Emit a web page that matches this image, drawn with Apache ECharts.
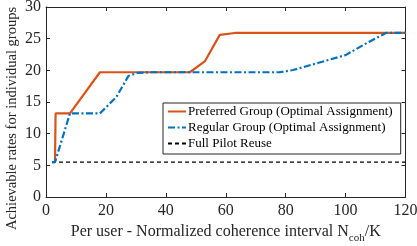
<!DOCTYPE html>
<html><head><meta charset="utf-8">
<script src="https://cdn.jsdelivr.net/npm/echarts@6/dist/echarts.min.js"></script>
<style>html,body{margin:0;padding:0;background:#fff}#c{width:417px;height:246px}</style>
</head><body><div id="c"></div>
<script>
const preferredX = [2, 3, 3.2, 8, 18, 48, 53, 58, 63, 120];
const preferredY = [5.5, 5.5, 13.2, 13.2, 19.7, 19.7, 21.4, 25.6, 25.9, 25.9];
const regularX = [2, 3, 8, 18, 23.5, 27.5, 30.5, 35, 78, 82.5, 91, 100, 107, 113.5, 120];
const regularY = [5.5, 5.5, 13.2, 13.2, 15.8, 19.1, 19.6, 19.7, 19.7, 20.05, 21.2, 22.4, 24.3, 25.9, 25.9];
const reuseX = [2, 120];
const reuseY = [5.5, 5.5];
const xTicks = [0, 20, 40, 60, 80, 100, 120];
const yTicks = [0, 5, 10, 15, 20, 25, 30];

const zip = (xs, ys) => xs.map((x, i) => [x, ys[i]]);
const font = 'Liberation Serif';
const chart = echarts.init(document.getElementById('c'));
const axisCommon = {
  axisLine: {show: true, onZero: false, lineStyle: {color: '#262626', width: 1}},
  axisTick: {show: true, inside: true, length: 4, lineStyle: {color: '#262626'}},
  splitLine: {show: false}
};
const names = ['Preferred Group (Optimal Assignment)', 'Regular Group (Optimal Assignment)', 'Full Pilot Reuse'];
chart.setOption({
  animation: false,
  grid: {left: 46, right: 11.5, top: 7, bottom: 49, containLabel: false, outerBoundsMode: 'none'},
  xAxis: [
    Object.assign({type: 'value', min: xTicks[0], max: xTicks[xTicks.length - 1], interval: 20,
      axisLabel: {fontFamily: font, fontSize: 16, color: '#262626', margin: 6},
      name: '{a|Per user - Normalized coherence interval N}{s|coh}{a|/K}',
      nameLocation: 'middle', nameGap: 21,
      nameTextStyle: {rich: {a: {fontFamily: font, fontSize: 16, color: '#262626'}, s: {fontFamily: font, fontSize: 11, color: '#262626', verticalAlign: 'bottom', padding: [12, 0, 0, 0]}}}
    }, axisCommon),
    Object.assign({type: 'value', min: 0, max: 120, interval: 20, position: 'top', axisLabel: {show: false}}, axisCommon)
  ],
  yAxis: [
    Object.assign({type: 'value', min: yTicks[0], max: yTicks[yTicks.length - 1], interval: 5,
      axisLabel: {fontFamily: font, fontSize: 16, color: '#262626', margin: 5}
    }, axisCommon),
    Object.assign({type: 'value', min: 0, max: 30, interval: 5, position: 'right', axisLabel: {show: false}}, axisCommon)
  ],
  graphic: [{
    type: 'text', x: 12, y: 118.5, rotation: Math.PI / 2,
    style: {text: 'Achievable rates for individual groups', fontFamily: font, fontSize: 14.5, fill: '#262626', align: 'center', verticalAlign: 'middle'}
  }],
  legend: {
    left: 163, top: 103, orient: 'vertical', itemGap: 3,
    itemWidth: 18, itemHeight: 12, padding: [2, 8, 4, 4],
    borderColor: '#262626', borderWidth: 1, borderRadius: 0, backgroundColor: '#fff',
    itemStyle: {opacity: 0},
    textStyle: {fontFamily: font, fontSize: 13, color: '#000', padding: [0, 0, 0, -3]},
    data: names
  },
  series: [
    {name: names[0], type: 'line', data: zip(preferredX, preferredY), symbol: 'none', showSymbol: false,
     lineStyle: {color: '#D95319', width: 2.2}, itemStyle: {color: '#D95319'}, z: 3},
    {name: names[1], type: 'line', data: zip(regularX, regularY), symbol: 'none', showSymbol: false,
     lineStyle: {color: '#0072BD', width: 2.2, type: [7, 2.5, 2, 2.5]}, itemStyle: {color: '#0072BD'}, z: 4},
    {name: names[2], type: 'line', data: zip(reuseX, reuseY), symbol: 'none', showSymbol: false,
     lineStyle: {color: '#000', width: 1.4, type: [4, 3]}, itemStyle: {color: '#000'}, z: 2}
  ]
});
</script></body></html>
